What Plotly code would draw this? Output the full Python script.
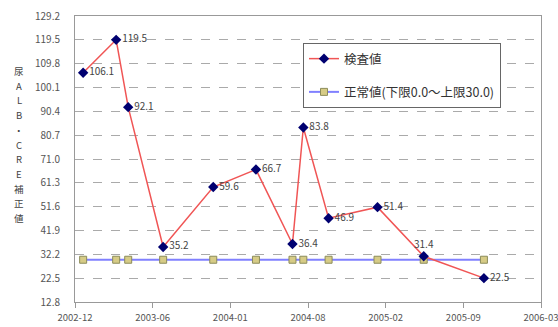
import plotly.graph_objects as go

# ---- data ----
dates = ["2002-12-31", "2003-03-26", "2003-04-26", "2003-07-25", "2003-12-01",
         "2004-03-20", "2004-06-22", "2004-07-20", "2004-09-23", "2005-01-27",
         "2005-05-26", "2005-10-28"]
test_values = [106.1, 119.5, 92.1, 35.2, 59.6, 66.7, 36.4, 83.8, 46.9, 51.4, 31.4, 22.5]
normal_upper = [30.0] * len(dates)
label_positions = ["middle right"] * 10 + ["top center", "middle right"]

x_tick_vals = ["2002-12-10", "2003-06-28", "2004-01-14", "2004-08-01",
               "2005-02-17", "2005-09-05", "2006-03-24"]
x_tick_text = ["2002-12", "2003-06", "2004-01", "2004-08", "2005-02", "2005-09", "2006-03"]
y_ticks = [12.8, 22.5, 32.2, 41.9, 51.6, 61.3, 71.0, 80.7, 90.4, 100.1, 109.8, 119.5, 129.2]

series1_name = "検査値"
series2_name = "正常値(下限0.0～上限30.0)"
y_title = "尿ALB・CRE補正値"

FONT = "Noto Sans CJK JP"

fig = go.Figure()
fig.add_trace(go.Scatter(
    x=dates, y=normal_upper, name=series2_name, mode="lines+markers",
    line=dict(color="#8080FF", width=2),
    marker=dict(symbol="square", size=7, color="#D6CB86",
                line=dict(color="#8C8C5A", width=1)),
    legendgroup="b", legendrank=2,
))
fig.add_trace(go.Scatter(
    x=dates, y=test_values, name=series1_name, mode="lines+markers+text",
    text=[f"{v:.1f}" for v in test_values], textposition=label_positions,
    textfont=dict(size=10, color="#444444", family=FONT),
    line=dict(color="#F05555", width=1.5),
    marker=dict(symbol="diamond", size=8, color="#000070"),
    legendgroup="a", legendrank=1, cliponaxis=False,
))

# vertical (stacked) axis title: one annotation per character
PLOT_H = 327 - 16 - 25
title_top_px, title_step_px = 71, 14.7
annotations = []
for i, ch in enumerate(y_title):
    y_px = title_top_px + i * title_step_px
    annotations.append(dict(
        text=ch, xref="paper", yref="paper",
        x=-(75 - 19) / 466, y=(302 - y_px) / PLOT_H,
        xanchor="center", yanchor="middle", showarrow=False,
        font=dict(size=9.5, color="#444444", family=FONT),
        borderpad=0,
    ))

fig.update_layout(
    width=558, height=327,
    margin=dict(l=75, r=17, t=16, b=25),
    paper_bgcolor="white", plot_bgcolor="white",
    font=dict(family=FONT, size=10, color="#444444"),
    showlegend=True,
    legend=dict(x=(303 - 75) / 466, y=(302 - 43) / PLOT_H, xanchor="left", yanchor="top",
                bgcolor="white", bordercolor="#666666", borderwidth=1,
                font=dict(size=12.5, color="#333333"), tracegroupgap=14,
                traceorder="grouped"),
    xaxis=dict(type="date", range=[x_tick_vals[0], x_tick_vals[-1]],
               tickvals=x_tick_vals, ticktext=x_tick_text, automargin=False,
               showgrid=False, showline=True, linecolor="#999999", mirror=True,
               ticks="outside", ticklen=5, tickcolor="#999999",
               ticklabelstandoff=2, ticklabeloverflow="allow",
               tickfont=dict(size=9.5, color="#555555")),
    yaxis=dict(range=[y_ticks[0], y_ticks[-1]], tickvals=y_ticks,
               ticktext=[f"{v:.1f}" for v in y_ticks], automargin=False,
               showgrid=True, gridcolor="#AAAAAA", griddash="dash", gridwidth=1,
               showline=True, linecolor="#999999", mirror=True,
               ticks="", zeroline=False, ticklabelstandoff=12,
               tickfont=dict(size=10, color="#555555")),
    annotations=annotations,
)

fig.write_html("out.html")
